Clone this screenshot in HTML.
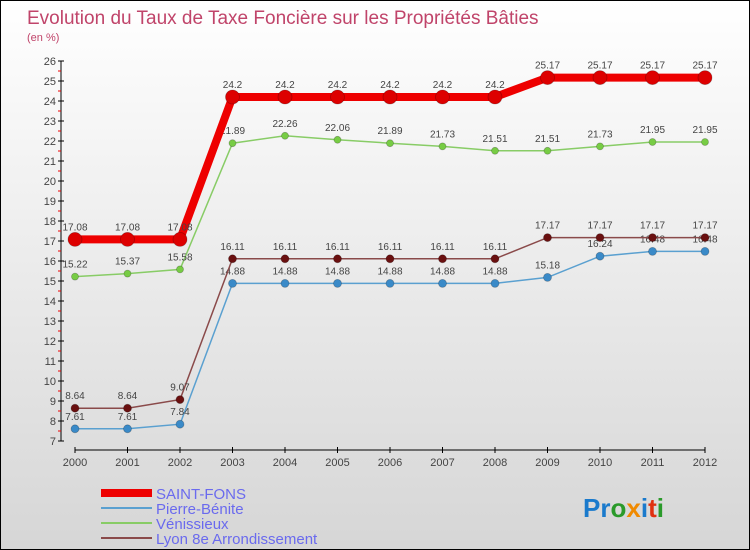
<!DOCTYPE html>
<html><head><meta charset="utf-8"><style>
body{margin:0}
#wrap{position:relative;width:748px;height:548px;border:1px solid #000;background:linear-gradient(#ffffff,#d6d6d6);font-family:"Liberation Sans",sans-serif;overflow:hidden}
</style></head><body>
<div id="wrap">
<svg id="svg" width="748" height="548" style="position:absolute;left:0;top:0" font-family="Liberation Sans, sans-serif">
<text x="26" y="23" font-size="19" fill="#c0446a">Evolution du Taux de Taxe Foncière sur les Propriétés Bâties</text>
<text x="26" y="40" font-size="11" fill="#c0446a">(en %)</text>
<g id="axes"></g><g id="series"></g>
<g id="legend"></g>
<text x="582" y="516" font-size="26" font-weight="bold"><tspan fill="#1a7acc">Pr</tspan><tspan fill="#2a9a2a">o</tspan><tspan fill="#f08a00">x</tspan><tspan fill="#1a7acc">i</tspan><tspan fill="#e03010">t</tspan><tspan fill="#2a9a2a">i</tspan></text>
</svg>
</div>
<script>
const years=[2000,2001,2002,2003,2004,2005,2006,2007,2008,2009,2010,2011,2012];
const saintFons=[17.08,17.08,17.08,24.2,24.2,24.2,24.2,24.2,24.2,25.17,25.17,25.17,25.17];
const pierreBenite=[7.61,7.61,7.84,14.88,14.88,14.88,14.88,14.88,14.88,15.18,16.24,16.48,16.48];
const venissieux=[15.22,15.37,15.58,21.89,22.26,22.06,21.89,21.73,21.51,21.51,21.73,21.95,21.95];
const lyon8=[8.64,8.64,9.07,16.11,16.11,16.11,16.11,16.11,16.11,17.17,17.17,17.17,17.17];
const yTicks=[7,8,9,10,11,12,13,14,15,16,17,18,19,20,21,22,23,24,25,26];
const NS="http://www.w3.org/2000/svg";
const xS=i=>74+i*52.5, yS=v=>440-(v-7)*20;
function mk(tag,attrs,parent,txt){const e=document.createElementNS(NS,tag);for(const k in attrs)e.setAttribute(k,attrs[k]);if(txt!==undefined)e.textContent=txt;parent.appendChild(e);return e;}
const ax=document.getElementById('axes');
let e=mk('line',{x1:60,y1:yS(26),x2:60,y2:yS(7),stroke:'#000','stroke-width':1},ax);

yTicks.forEach(v=>{
  mk('line',{x1:57,y1:yS(v),x2:63,y2:yS(v),stroke:'#000'},ax);
  if(v<26)mk('line',{x1:57,y1:yS(v+0.5),x2:60,y2:yS(v+0.5),stroke:'#e00'},ax);
  const t=mk('text',{x:55,y:yS(v)+4,'font-size':11,fill:'#444','text-anchor':'end'},ax,v);
  
});
e=mk('line',{x1:xS(0),y1:449,x2:xS(12),y2:449,stroke:'#000'},ax);

years.forEach((y,i)=>{
  mk('line',{x1:xS(i),y1:446,x2:xS(i),y2:452,stroke:'#000'},ax);
  const t=mk('text',{x:xS(i),y:465,'font-size':11,fill:'#444','text-anchor':'middle'},ax,y);
  
});
const sg=document.getElementById('series');
function series(vals,color,w,r,name,dot){
  const g=mk('g',{},sg);
  
  mk('polyline',{points:vals.map((v,i)=>xS(i)+','+yS(v)).join(' '),fill:'none',stroke:color,'stroke-width':w},g);
  vals.forEach((v,i)=>{
    const c=mk('circle',{cx:xS(i),cy:yS(v),r:r,fill:dot,stroke:'rgba(0,0,0,0.25)','stroke-width':0.8},g);
    
    const t=mk('text',{x:xS(i),y:yS(v)-9,'font-size':10,fill:'#444','text-anchor':'middle'},g,v);
    
  });
}
series(venissieux,'#88cc66',1.5,3.5,'venissieux-series','#77cc44');
series(pierreBenite,'#5aa0d0',1.5,4,'pierre-benite-series','#3a8ac8');
series(lyon8,'#8a4a4a',1.5,4,'lyon-8e-series','#6a1010');
series(saintFons,'#ee0000',8,7,'saint-fons-series','#dd0000');
const lg=document.getElementById('legend');
const lnames=['SAINT-FONS','Pierre-Bénite','Vénissieux','Lyon 8e  Arrondissement'];
const lcol=['#ee0000','#5aa0d0','#88cc66','#8a4a4a'];
const lw=[8,2,2,2];
lnames.forEach((n,i)=>{
  const y=492+i*15;
  const l=mk('line',{x1:100,y1:y,x2:151,y2:y,stroke:lcol[i],'stroke-width':lw[i]},lg);
  
  const t=mk('text',{x:155,y:y+6,'font-size':15,fill:'#6a6aee','xml:space':'preserve'},lg,n);
  
});
</script>
</body></html>
